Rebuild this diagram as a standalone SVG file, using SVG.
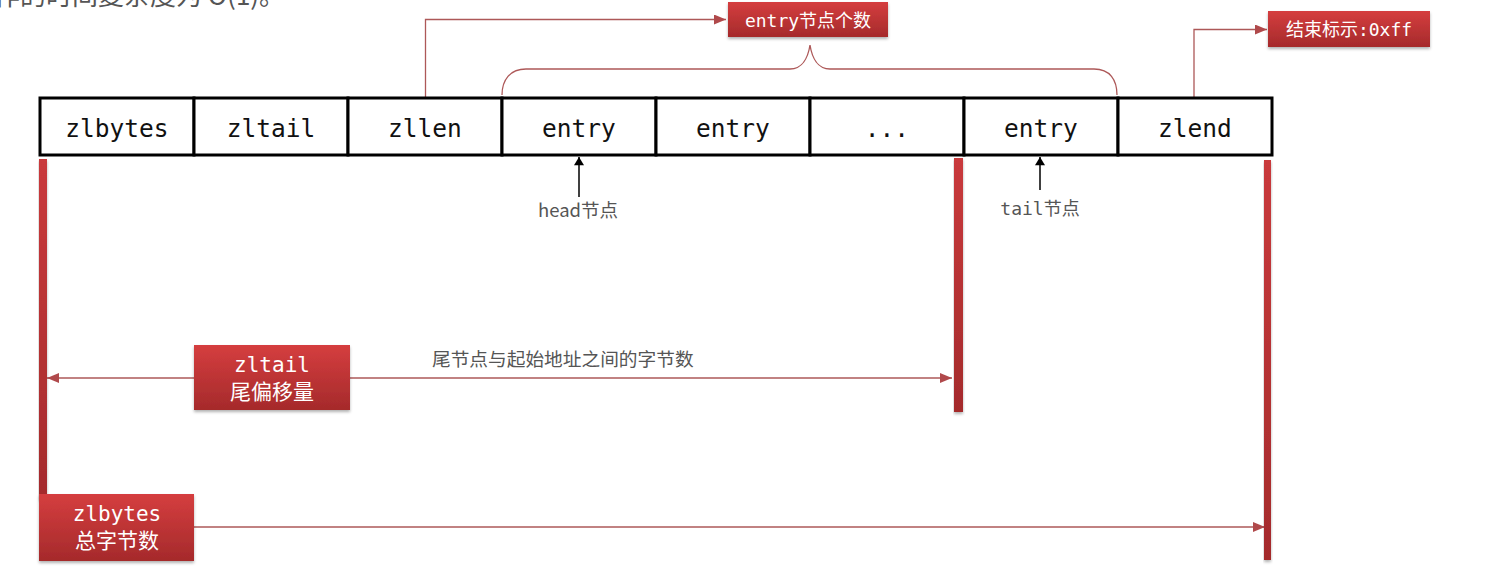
<svg xmlns="http://www.w3.org/2000/svg" width="1494" height="569" viewBox="0 0 1494 569">
<style>
.cell{fill:#fff;stroke:#000;stroke-width:3}
.ct{font-family:"DejaVu Sans Mono","Liberation Mono",monospace;font-size:24.5px;fill:#111;text-anchor:middle}
.mono{font-family:"DejaVu Sans Mono","Liberation Mono",monospace}
.cjk{font-family:"Noto Sans CJK SC","Noto Sans",sans-serif}
.wl{fill:#fff;text-anchor:middle}
.gl{fill:#555}
.conn{fill:none;stroke:#ad5858;stroke-width:1.3}
.blk{fill:none;stroke:#000;stroke-width:1.5}
.box{fill:url(#rg);filter:url(#sh)}
.bar{fill:url(#bg);filter:url(#sh)}
</style>
<defs>
<linearGradient id="rg" x1="0" y1="0" x2="0" y2="1">
<stop offset="0" stop-color="#d53e3f"/>
<stop offset="1" stop-color="#a52a2b"/>
</linearGradient>
<linearGradient id="bg" x1="0" y1="0" x2="0" y2="1">
<stop offset="0" stop-color="#c93a3c"/>
<stop offset="1" stop-color="#a42b2c"/>
</linearGradient>
<filter id="sh" x="-10%" y="-10%" width="130%" height="130%">
<feDropShadow dx="0" dy="2" stdDeviation="1.8" flood-color="#000" flood-opacity="0.3"/>
</filter>
<marker id="ra" viewBox="0 0 12 10" markerUnits="userSpaceOnUse" markerWidth="12" markerHeight="10" refX="12" refY="5" orient="auto">
<path d="M0,0 L12,5 L0,10 z" fill="#b0494b"/>
</marker>
<marker id="ba" viewBox="0 0 10 12" markerUnits="userSpaceOnUse" markerWidth="12" markerHeight="10" refX="10" refY="6" orient="auto">
<path d="M0,0 L10,6 L0,12 z" fill="#000"/>
</marker>
</defs>
<rect width="1494" height="569" fill="#fff"/>

<text x="-6" y="5" class="cjk gl" font-size="26">作的时间复杂度为 O(1)。</text>

<g id="connectors">
<path class="conn" d="M425.5,98 V19.5 H726" marker-end="url(#ra)"/>
<path class="conn" d="M1194,98 V29.5 H1267" marker-end="url(#ra)"/>
<path class="conn" d="M502,95 C502,80 510,69 526,69 L790,69 C802,69 808,58 810,45 C812,58 818,69 830,69 L1094,69 C1110,69 1117,80 1117,95"/>
<path class="blk" d="M579,197 V157" marker-end="url(#ba)"/>
<path class="blk" d="M1040,190 V157" marker-end="url(#ba)"/>
<path class="conn" d="M194,378 H47" marker-end="url(#ra)"/>
<path class="conn" d="M350,378 H952" marker-end="url(#ra)"/>
<path class="conn" d="M194,527 H1265" marker-end="url(#ra)"/>
</g>

<g id="ziplist">
<g id="n-zlbytes"><rect class="cell" x="40" y="98" width="154" height="57"/><text class="ct" x="117" y="137">zlbytes</text></g>
<g id="n-zltail"><rect class="cell" x="194" y="98" width="154" height="57"/><text class="ct" x="271" y="137">zltail</text></g>
<g id="n-zllen"><rect class="cell" x="348" y="98" width="154" height="57"/><text class="ct" x="425" y="137">zllen</text></g>
<g id="n-entry1"><rect class="cell" x="502" y="98" width="154" height="57"/><text class="ct" x="579" y="137">entry</text></g>
<g id="n-entry2"><rect class="cell" x="656" y="98" width="154" height="57"/><text class="ct" x="733" y="137">entry</text></g>
<g id="n-dots"><rect class="cell" x="810" y="98" width="154" height="57"/><text class="ct" x="887" y="137">...</text></g>
<g id="n-entry3"><rect class="cell" x="964" y="98" width="154" height="57"/><text class="ct" x="1041" y="137">entry</text></g>
<g id="n-zlend"><rect class="cell" x="1118" y="98" width="154" height="57"/><text class="ct" x="1195" y="137">zlend</text></g>
</g>

<g id="bars">
<rect class="bar" x="39" y="159" width="8" height="340"/>
<rect class="bar" x="954" y="158" width="9" height="254"/>
<rect class="bar" x="1264" y="160" width="7" height="400"/>
</g>

<g id="l-count">
<rect class="box" x="728" y="2" width="160" height="35"/>
<text class="wl" x="808" y="27" font-size="18"><tspan class="mono">entry</tspan><tspan class="cjk">节点个数</tspan></text>
</g>
<g id="l-end">
<rect class="box" x="1268" y="11" width="162" height="36"/>
<text class="wl" x="1349" y="36" font-size="18"><tspan class="cjk">结束标示</tspan><tspan class="mono">:0xff</tspan></text>
</g>
<g id="l-head">
<text class="cjk gl" x="578" y="217" font-size="18.5" text-anchor="middle">head节点</text>
</g>
<g id="l-tail">
<text class="gl" x="1040" y="215" font-size="18" text-anchor="middle"><tspan class="mono">tail</tspan><tspan class="cjk">节点</tspan></text>
</g>
<g id="l-between">
<text class="cjk gl" x="432" y="366" font-size="18.7">尾节点与起始地址之间的字节数</text>
</g>
<g id="l-zltail">
<rect class="box" x="194" y="345" width="156" height="65"/>
<text class="mono wl" x="272" y="372" font-size="21">zltail</text>
<text class="cjk wl" x="272" y="399" font-size="21">尾偏移量</text>
</g>
<g id="l-zlbytes">
<rect class="box" x="39" y="494" width="155" height="67"/>
<text class="mono wl" x="117" y="521" font-size="21">zlbytes</text>
<text class="cjk wl" x="117" y="548" font-size="21">总字节数</text>
</g>
</svg>
